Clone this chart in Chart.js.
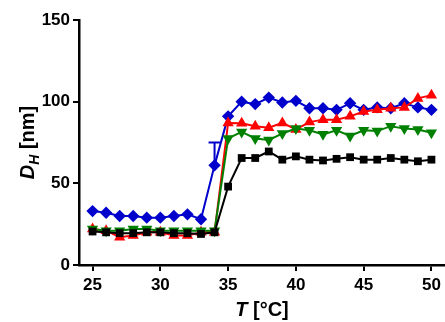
<!DOCTYPE html>
<html>
<head>
<meta charset="utf-8">
<script src="https://cdn.jsdelivr.net/npm/chart.js@4"></script>
<style>
  html, body { margin: 0; padding: 0; background: #fff; }
  #wrap { width: 445px; height: 322px; }
</style>
</head>
<body>
<div id="wrap"><canvas id="myChart" width="445" height="322"></canvas></div>
<script>
const temps = [25, 26, 27, 28, 29, 30, 31, 32, 33, 34, 35, 36, 37, 38, 39, 40, 41, 42, 43, 44, 45, 46, 47, 48, 49, 50];
const blue  = [33, 32, 30, 30, 29, 29, 30, 31, 28, 61, 91, 100, 98.5, 102.5, 99.5, 100.5, 96, 96, 95, 99, 95, 96.5, 96, 99, 96.5, 95];
const red   = [22, 21, 17, 18, 20, 20, 18, 18, 20, 20, 87, 86.8, 85, 84, 87, 83, 87.5, 89, 89, 91, 94, 95, 96, 96.5, 102, 104];
const green = [22, 21, 21, 22, 22, 21, 21, 21, 21, 21, 77.5, 81.5, 77.5, 76.5, 80.5, 83.5, 82.5, 80, 82.5, 79, 82.5, 82, 85, 83.5, 83, 81];
const black = [20.5, 20, 19.5, 19.5, 20, 20, 19.5, 19.5, 19, 20, 48, 65.5, 65.5, 69.5, 64.5, 66.5, 64.5, 64, 65, 66, 64.5, 64.5, 65.5, 64.5, 63.5, 64.5];
// only one error bar is visible in the picture (blue, 34 °C)
const blueErr = [0, 0, 0, 0, 0, 0, 0, 0, 0, 14, 0, 0, 0, 0, 0, 0, 0, 0, 0, 0, 0, 0, 0, 0, 0, 0];
const xTicks = [25, 30, 35, 40, 45, 50];
const yTicks = [0, 50, 100, 150];

const FONT = '"Liberation Sans", Arial, sans-serif';

function pts(vals) {
    return temps.map((t, i) => ({ x: t, y: vals[i] }));
}

const errorBars = {
    id: 'errorBars',
    afterDatasetsDraw(chart) {
        const c = chart.ctx, xs = chart.scales.x, ys = chart.scales.y;
        c.save();
        c.strokeStyle = '#0000cc';
        c.lineWidth = 2;
        temps.forEach((t, i) => {
            if (!blueErr[i]) return;
            const px = xs.getPixelForValue(t);
            const y0 = ys.getPixelForValue(blue[i]);
            const y1 = ys.getPixelForValue(blue[i] + blueErr[i]);
            c.beginPath();
            c.moveTo(px, y0); c.lineTo(px, y1);
            c.moveTo(px - 6, y1); c.lineTo(px + 6, y1);
            c.stroke();
        });
        c.restore();
    }
};

const axisTitles = {
    id: 'axisTitles',
    afterDraw(chart) {
        const c = chart.ctx, a = chart.chartArea;
        const big = 'bold 20px ' + FONT, it = 'italic bold 20px ' + FONT, sub = 'italic bold 14px ' + FONT;
        c.save();
        c.fillStyle = '#000';
        c.textBaseline = 'alphabetic';
        // y title: D_H [nm]
        c.translate(34, (a.top + a.bottom) / 2);
        c.rotate(-Math.PI / 2);
        c.font = it; const wD = c.measureText('D').width;
        c.font = sub; const wH = c.measureText('H').width;
        c.font = big; const wR = c.measureText(' [nm]').width;
        let x = -(wD + wH + wR) / 2;
        c.font = it; c.fillText('D', x, 0); x += wD;
        c.font = sub; c.fillText('H', x, 5); x += wH;
        c.font = big; c.fillText(' [nm]', x, 0);
        c.restore();

        c.save();
        c.fillStyle = '#000';
        c.font = it; const wT = c.measureText('T').width;
        c.font = big; const wC = c.measureText(' [°C]').width;
        let x2 = 262 - (wT + wC) / 2;
        c.font = it; c.fillText('T', x2, 316); x2 += wT;
        c.font = big; c.fillText(' [°C]', x2, 316);
        c.restore();
    }
};

function ds(label, vals, color, style, radius, rotation) {
    return {
        label: label,
        data: pts(vals),
        borderColor: color,
        backgroundColor: color,
        borderWidth: 2,
        pointStyle: style,
        pointRadius: radius,
        pointRotation: rotation || 0,
        pointBorderWidth: 0,
        showLine: true,
        tension: 0
    };
}

const ctx = document.getElementById('myChart').getContext('2d');

new Chart(ctx, {
    type: 'scatter',
    data: {
        datasets: [
            ds('black', black, '#000000', 'rect', 5.5),
            ds('green', green, '#008000', 'triangle', 6.5, 180),
            ds('red', red, '#ff0000', 'triangle', 6.5),
            ds('blue', blue, '#0000cc', 'rectRot', 6.2)
        ]
    },
    options: {
        responsive: false,
        animation: false,
        layout: { autoPadding: false, padding: { top: 20, right: 0, left: 0, bottom: 0 } },
        plugins: { legend: { display: false }, tooltip: { enabled: false } },
        scales: {
            x: {
                type: 'linear',
                min: 24,
                max: 51,
                afterBuildTicks: (s) => { s.ticks = xTicks.map(v => ({ value: v })); },
                afterFit: (s) => { s.height = 57; s.paddingRight = 0; s.paddingLeft = 0; },
                border: { color: '#000', width: 2.5 },
                grid: { drawOnChartArea: false, drawTicks: true, tickLength: 6, color: '#000', lineWidth: 2 },
                ticks: { color: '#000', font: { family: FONT, size: 17, weight: 'bold' }, padding: 4, maxRotation: 0 }
            },
            y: {
                type: 'linear',
                min: 0,
                max: 150,
                afterBuildTicks: (s) => { s.ticks = yTicks.map(v => ({ value: v })); },
                afterFit: (s) => { s.width = 79; },
                border: { color: '#000', width: 2.5 },
                grid: { drawOnChartArea: false, drawTicks: true, tickLength: 6, color: '#000', lineWidth: 2 },
                ticks: { color: '#000', font: { family: FONT, size: 17, weight: 'bold' }, padding: 3 }
            }
        }
    },
    plugins: [errorBars, axisTitles]
});
</script>
</body>
</html>
